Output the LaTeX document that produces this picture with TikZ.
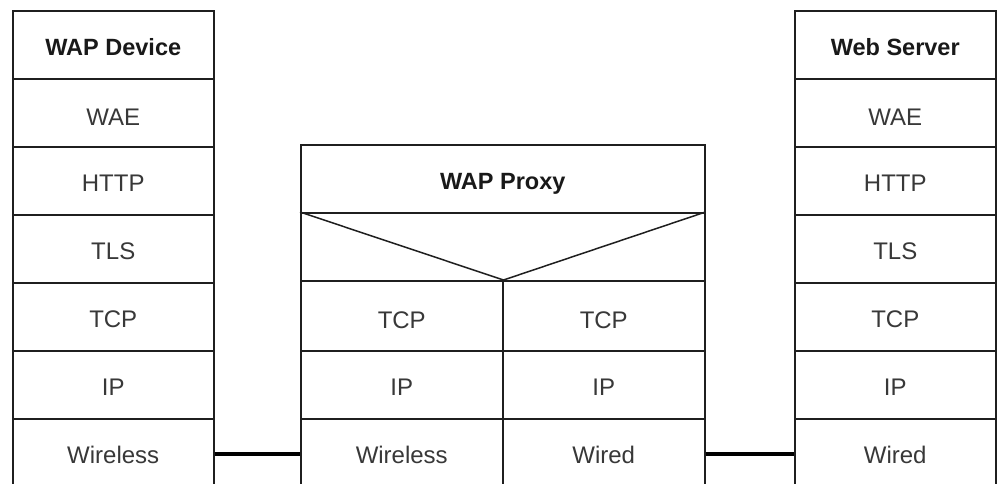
\documentclass[tikz,border=0pt]{standalone}
\usepackage{fontspec}
\setmainfont{Liberation Sans}
\begin{document}
\begin{tikzpicture}[x=1pt,y=-1pt,
  cell/.style={draw=black!88,line width=1.5pt,minimum width=201pt,minimum height=68pt,inner sep=0pt,anchor=north west,
    text height=22pt,text depth=0pt,font=\fontsize{24}{28}\selectfont,text=black!78},
  lower/.style={text height=26pt},
  halfcell/.style={cell,minimum width=202pt},
  head/.style={cell,font=\bfseries\fontsize{23.5}{28}\selectfont,text=black!90},
  link/.style={line width=4.3pt,black}]
\clip (0,0) rectangle (998,483);
\fill[white] (0,0) rectangle (998,483);
% WAP device stack
\node[head] (d0) at (12,10) {WAP Device};
\node[cell,lower] (d1) at (12,78) {WAE};
\node[cell] (d2) at (12,146) {HTTP};
\node[cell] (d3) at (12,214) {TLS};
\node[cell] (d4) at (12,282) {TCP};
\node[cell] (d5) at (12,350) {IP};
\node[cell] (d6) at (12,418) {Wireless};
% Web server stack
\node[head] (s0) at (794,10) {Web Server};
\node[cell,lower] (s1) at (794,78) {WAE};
\node[cell] (s2) at (794,146) {HTTP};
\node[cell] (s3) at (794,214) {TLS};
\node[cell] (s4) at (794,282) {TCP};
\node[cell] (s5) at (794,350) {IP};
\node[cell] (s6) at (794,418) {Wired};
% WAP proxy
\node[head,minimum width=404pt] (p0) at (300,144) {WAP Proxy};
\node[cell,minimum width=404pt] (pv) at (300,212) {};
\node[halfcell,lower,minimum height=70pt] (pl1) at (300,280) {TCP};
\node[halfcell,lower,minimum height=70pt] (pr1) at (502,280) {TCP};
\node[halfcell] (pl2) at (300,350) {IP};
\node[halfcell] (pr2) at (502,350) {IP};
\node[halfcell] (pl3) at (300,418) {Wireless};
\node[halfcell] (pr3) at (502,418) {Wired};
\draw[black!88,line width=1.5pt] (pv.north west) -- (pl1.north east) -- (pv.north east);
% physical links
\draw[link] ([yshift=-1pt]d6.east) -- ([yshift=-1pt]pl3.west);
\draw[link] ([yshift=-1pt]pr3.east) -- ([yshift=-1pt]s6.west);
\end{tikzpicture}
\end{document}
